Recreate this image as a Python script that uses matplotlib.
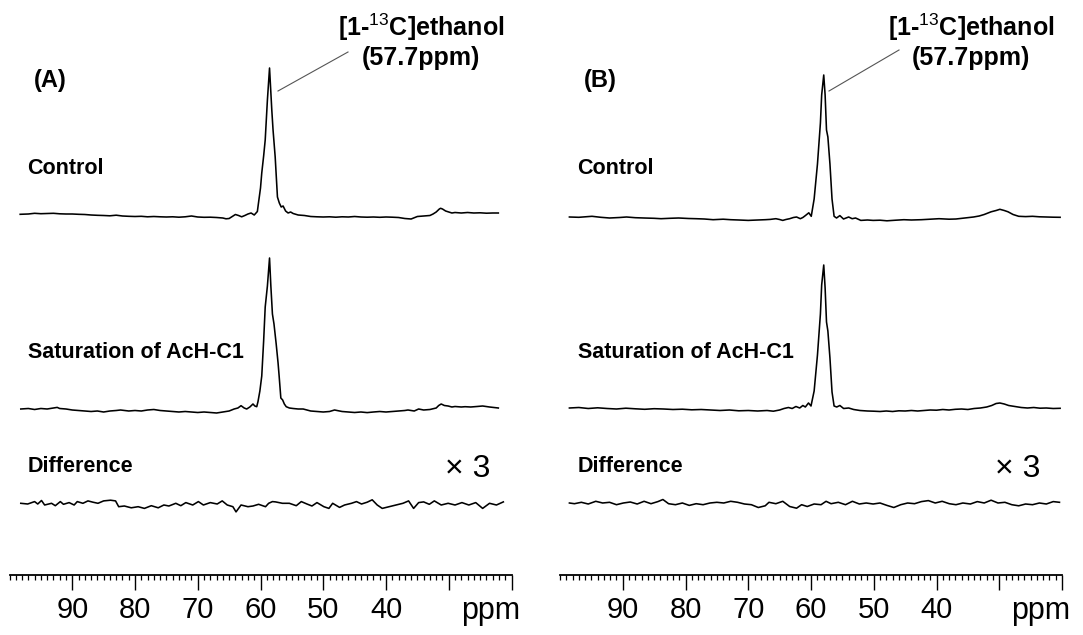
import numpy as np
import matplotlib
matplotlib.use("Agg")
import matplotlib.pyplot as plt
from matplotlib.lines import Line2D
from matplotlib.ticker import FixedLocator, MultipleLocator, FuncFormatter

plt.rcParams['font.family'] = ['Liberation Sans', 'DejaVu Sans']
plt.rcParams['mathtext.fontset'] = 'custom'
plt.rcParams['mathtext.rm'] = 'Liberation Sans'
plt.rcParams['mathtext.bf'] = 'Liberation Sans:bold'

# ---------------- data (intensity above local baseline) ----------------
ctrlA_ppm = [98.3, 97, 96, 95, 94, 93, 92, 91, 90, 89, 88, 87, 86, 85, 84, 83, 82, 81, 80, 79,
             78, 77, 76, 75, 74, 73, 72, 71, 70, 69, 68, 67, 66, 65.5, 65, 64.5, 64, 63.5, 63, 62.5,
             62, 61.5, 61, 60.5, 60.3, 60.0, 59.8, 59.5, 59.25, 58.9, 58.56, 58.2, 58.0, 57.66, 57.3,
             57.0, 56.7, 56.4, 56.0, 55.6, 55.2, 54.8, 54, 53, 52, 51, 50, 49, 48, 47, 46, 45, 44, 43,
             42, 41, 40, 39, 38, 37, 36, 35, 34, 33, 32.5, 32, 31.5, 31.3, 31, 30.5, 30, 29.5, 29, 28,
             27, 26, 25, 24, 23, 22.1]
ctrlA_int = [1.7, 2.0, 2.7, 2.3, 2.5, 2.7, 2.2, 2.0, 2.0, 1.7, 1.5, 1.0, 0.7, 0.5, 0.2, 0.8, 0.0, -0.3,
             -0.5, -0.3, -0.8, -0.5, -0.8, -1.0, -0.8, -1.2, -0.8, 0.0, -1.0, -1.3, -1.2, -1.5, -2.0,
             -2.8, -2.5, -0.5, 1.5, 0.5, -0.8, 0.5, 2.0, 3.0, 1.0, 4.5, 14, 28, 43, 60, 76, 116, 148,
             106, 86, 59, 19, 13, 9, 10, 5, 3, 4, 2.5, 1, 0.5, -0.5, -0.8, -1, -0.8, -1.2, -0.8, -1,
             -0.5, -1.0, -1.2, -1, -1.3, -1.0, -1.2, -1.5, -2.5, -3.0, -0.5, 0, 0.5, 2, 4, 7, 7.7, 7,
             5, 4, 3, 3.5, 3, 3.5, 3, 3.2, 2.8, 3, 3]

satA_ppm = [98.2, 97, 96, 95, 94, 93, 92.4, 92, 91, 90, 89, 88, 87, 86, 85, 84, 83, 82.3, 81, 80,
            79, 78, 77, 76, 75, 74, 73, 72, 71, 70, 69, 68, 67, 66.5, 66, 65, 64.2, 63.6, 63.1, 62.6,
            62.2, 61.7, 61.2, 60.9, 60.6, 60.4, 60.1, 59.8, 59.5, 59.25, 58.9, 58.56, 58.35, 58.1,
            57.85, 57.5, 57.2, 57.03, 56.76, 56.47, 56.2, 55.9, 55.4, 54.8, 54, 53.2, 52, 51, 50, 49,
            48.2, 47, 46, 45, 44, 43, 42, 41, 40, 39, 38, 37, 36.5, 35.5, 34.8, 34, 33, 32, 31.6,
            31.2, 30.7, 30.1, 29.5, 29, 28, 27.4, 26.5, 25.5, 24.6, 23.5, 22.1]
satA_int = [2, 2.5, 1.5, 2.5, 2, 3, 3.6, 2.5, 2, 1, 0.5, 0, -0.5, 0, -1, 0, 0.5, 1, 0, 0.5,
            0, 1, 1.5, 0.5, 0, -0.5, -1, -0.5, -1, -1.5, -1, -1.5, -2, -1.5, -1, 0, 2, 3, 5.3, 3,
            2, 4, 7, 5, 4.3, 9.4, 20, 35, 70, 104, 125, 153, 125, 97, 87, 67, 48, 35, 13, 11,
            7, 4.3, 3, 2.5, 2, 2, 0, -0.5, -1, -0.5, 1, -0.5, -1, -1.5, -1, -1.6, -1, -0.5, -1, -0.5,
            0, 0.5, 1, 0, 2, 1, 1.5, 3, 5.5, 7, 5.5, 5, 4, 4.5, 4, 4.3, 4, 4.5, 5, 4, 3]

diffA_ppm = [98.2, 97.1, 96.0, 95.5, 94.9, 94.4, 93.3, 92.7, 91.9, 91.4, 90.5, 89.7, 89.2, 88.3,
             87.5, 86.7, 85.9, 85.0, 83.9, 83.1, 82.6, 81.7, 80.6, 79.5, 78.5, 77.4, 76.3, 75.4,
             74.6, 73.5, 72.7, 71.9, 70.8, 69.9, 69.1, 68.0, 66.9, 66.1, 65.3, 64.4, 63.9, 63.1,
             62.0, 61.2, 60.3, 59.2, 58.7, 58.1, 57.6, 56.5, 55.4, 54.3, 53.5, 52.6, 51.8, 51.0,
             49.9, 49.1, 48.5, 47.4, 46.6, 45.5, 44.7, 43.9, 43.0, 42.2, 41.4, 40.6, 39.5, 38.4,
             37.3, 36.4, 35.6, 34.8, 34.0, 33.1, 32.3, 31.2, 30.1, 29.0, 27.9, 26.8, 25.7, 24.6,
             23.5, 22.4, 21.3]
diffA_int = [1.7, 1.0, 3.4, 1.0, 4.5, 0, 1.7, -0.7, 3.4, 0.7, 2.4, 0, 3.4, 1.7, 4.1, 2.8, 1.7, 4.1,
             4.8, 4.1, -1.7, -1.0, -2.8, -1.7, -3.4, -0.7, -2.8, 0, -1.0, 1.7, -0.7, 2.4, 0, 3.4, 0,
             2.4, 1.0, 4.1, 0, -1.7, -6.9, 0, -1.7, -1.0, 0.7, -1.7, 1.7, 3.4, 3.1, 1.7, 1.7, -0.7,
             3.4, 1.0, -1.0, 2.4, -1.7, -3.4, 1.7, -2.4, 0, 1.7, 3.4, 1.0, 2.8, 5.2, 0, -3.4, -1.7, 0,
             1.7, 4.1, -3.4, 2.4, 3.1, 0.7, 4.1, 0, 1.7, 0, 2.4, 0, 2.4, -3.4, 1.7, 0, 3.1]

ctrlB_ppm = [98.5, 97, 94.9, 93.5, 92.1, 90.5, 89.4, 88, 86.6, 85, 83.9, 82.5, 81.1, 79.5, 78.3, 77,
             75.6, 74, 72.8, 71.5, 70.0, 68.5, 67.3, 66.5, 65.6, 65.0, 64.5, 64.0, 63.4, 62.8, 62.3,
             61.7, 61.3, 60.9, 60.35, 59.96, 59.5, 58.97, 58.5, 58.3, 57.97, 57.75, 57.53, 57.31,
             56.98, 56.65, 56.32, 55.93, 55.4, 54.82, 54.0, 53.44, 52.9, 52.06, 51, 50.1, 49, 47.9,
             46.5, 45.2, 44, 42.4, 41, 39.6, 38, 36.9, 35.5, 34.1, 33.2, 32.4, 31.3, 30.5, 29.9, 29.2,
             28.6, 27.8, 26.9, 25.8, 24.7, 23.6, 22.5, 21.4, 20.3]
ctrlB_int = [1.0, 0.7, 1.7, 0.7, 0, 0.5, 1.0, 0.3, 0, -0.3, -0.7, -0.3, 0, -0.5, -0.7, -1.0, -1.7,
             -1.2, -1.7, -2.0, -2.4, -2.0, -1.7, -1.4, -0.7, -1.5, -2.4, -1.5, -0.7, 0.5, 1.0, -0.7,
             0.5, 2.4, 5.2, 1.7, 19, 54, 95, 123, 143, 123, 88, 81, 54, 19, 1.7, 0, 2.4, -1.0, 1.0,
             -0.7, 0, -2.4, -2.0, -2.4, -2.2, -2.8, -2.2, -1.7, -2.0, -1.7, -1.2, -0.7, -1.2, -1.0, 0,
             1.0, 2.0, 3.5, 6.2, 7.5, 8.7, 7.5, 6.2, 3.5, 1.7, 1.4, 1.7, 1.2, 1.0, 0.8, 0.7]

satB_ppm = [98.5, 97, 95.5, 94, 92.5, 91, 89.5, 88, 86.5, 85, 83.5, 82, 80.5, 79, 77.5, 76, 74.5, 73,
            71.5, 70, 68.5, 67, 66, 65, 64.3, 63.6, 63, 62.4, 61.8, 61.3, 60.9, 60.4, 60.0, 59.5,
            58.97, 58.5, 58.3, 57.97, 57.75, 57.53, 57.31, 56.98, 56.65, 56.32, 55.9, 55.4, 54.8,
            54.0, 53.2, 52.2, 51, 50, 49, 48, 47, 46, 45, 44, 43, 42, 41, 40, 39, 38, 37, 36, 35, 34,
            33, 32, 31.2, 30.5, 29.9, 29.2, 28.5, 27.5, 26.5, 25.5, 24.5, 23.5, 22.5, 21.4, 20.3]
satB_int = [1.0, 1.5, 0.5, 1.2, 0.5, 0, 0.8, 0.2, -0.3, 0.3, 0, -0.5, -0.2, -0.8, -0.5, -1.0, -1.5,
            -1.0, -1.8, -1.5, -2.0, -1.5, -2.2, -1.0, 0.5, 1.5, 0.5, 2.5, 1.0, 3.5, 2.0, 6.0, 3.0, 18,
            54, 95, 124, 144, 121, 87, 78, 51, 17, 3, 2, 3.5, 0.5, 1.0, -0.5, -1.5, -2.0, -2.2, -2.5,
            -2.0, -2.5, -1.8, -2.0, -1.5, -2.0, -1.5, -1.0, -1.2, -0.5, -1.0, -0.3, 0, -0.5, 0.5, 1.0,
            2.0, 3.5, 5.5, 6.0, 5.0, 3.5, 2.5, 1.5, 1.0, 1.5, 0.8, 1.0, 0.5, 0.7]

diffB_ppm = [98.5, 97.7, 96.6, 95.5, 94.3, 93.2, 92.1, 91.0, 89.9, 88.8, 87.7, 86.6, 85.5, 84.4,
             83.6, 82.7, 81.6, 80.5, 79.4, 78.3, 77.2, 76.1, 75.0, 73.9, 72.8, 71.7, 70.6, 69.5,
             68.4, 67.3, 66.7, 65.6, 64.5, 63.4, 62.3, 61.5, 60.6, 59.5, 58.4, 57.6, 56.8, 55.65,
             54.5, 53.4, 52.3, 51.2, 50.1, 49.0, 47.9, 46.8, 45.7, 44.6, 43.5, 42.4, 41.3, 40.2,
             39.1, 37.97, 36.9, 35.8, 34.6, 33.5, 32.4, 31.3, 30.2, 29.1, 28.0, 26.9, 25.8, 24.7,
             23.6, 22.5, 21.4, 20.4]
diffB_int = [0, -0.7, 0.7, -1.0, 1.7, 0, 0.7, -1.7, 0, 1.0, -1.0, 1.7, -0.7, 1.4, 3.5, -0.7, -1.7, 0,
             -2.4, -0.7, -1.7, 0, 0.7, 0, 1.7, 0.7, -1.0, -1.7, -4.5, -2.8, 0.7, -0.7, 1.7, -3.5,
             -5.2, -1.7, -3.5, -1.0, -1.7, 1.7, -0.7, 0.7, -1.7, 1.7, -1.0, 0, -1.0, 0, -2.4, -4.5,
             -1.7, 0, -0.7, 1.4, 2.4, 0, 1.7, -0.7, -1.7, 0, -1.0, 1.4, 0, 2.8, 0, 0.7, -1.7, -2.8,
             -1.0, -1.7, 0, -1.0, 1.4, 0.7]

major_ticks = [90, 80, 70, 60, 50, 40, 30, 20]
labelled_ticks = [90, 80, 70, 60, 50, 40]
panel_labels = ["(A)", "(B)"]
trace_labels = ["Control", "Saturation of AcH-C1", "Difference"]
peak_label_1 = r"[1-$^{13}$C]ethanol"
peak_label_2 = "(57.7ppm)"
scale_label = "× 3"

# ---------------- layout ----------------
W, H = 1083, 635
fig = plt.figure(figsize=(W / 100, H / 100), dpi=100)
fig.patch.set_facecolor("white")


def rect(x0, x1, ytop, ybot):
    return [x0 / W, 1 - ybot / H, (x1 - x0) / W, (ybot - ytop) / H]


def ptext(x, y, s, **kw):
    fig.text(x / W, 1 - y / H, s, **kw)


def pline(x0, y0, x1, y1, **kw):
    fig.add_artist(Line2D([x0 / W, x1 / W], [1 - y0 / H, 1 - y1 / H],
                          transform=fig.transFigure, **kw))


panels = [
    dict(x0=9.5, x1=511.5, dx=0,
         traces=[(ctrlA_ppm, ctrlA_int, 216), (satA_ppm, satA_int, 411), (diffA_ppm, diffA_int, 505)],
         leader=(278, 91, 348, 52)),
    dict(x0=560, x1=1062, dx=550,
         traces=[(ctrlB_ppm, ctrlB_int, 218), (satB_ppm, satB_int, 409), (diffB_ppm, diffB_int, 503)],
         leader=(829, 91, 899, 50)),
]

for i, p in enumerate(panels):
    ax = fig.add_axes(rect(p['x0'], p['x1'], 0, H))
    ax.set_xlim(100, 20)
    ax.set_ylim(H, 0)
    ax.axis('off')
    for ppm, inten, off in p['traces']:
        ax.plot(ppm, off - np.asarray(inten), color='black', lw=1.15, solid_joinstyle='round')

    # ppm scale
    sax = fig.add_axes(rect(p['x0'], p['x1'], 555, 575))
    sax.set_xlim(100, 20)
    sax.set_facecolor('none')
    for s in ['top', 'left', 'right']:
        sax.spines[s].set_visible(False)
    sax.spines['bottom'].set_linewidth(1.3)
    sax.set_yticks([])
    sax.xaxis.set_major_locator(FixedLocator(major_ticks))
    sax.xaxis.set_minor_locator(MultipleLocator(1))
    sax.xaxis.set_major_formatter(FuncFormatter(
        lambda v, pos: f"{int(round(v))}" if int(round(v)) in labelled_ticks else ""))
    sax.tick_params(axis='x', which='major', direction='out', length=11, width=1.0,
                    labelsize=21, pad=4)
    sax.tick_params(axis='x', which='minor', direction='out', length=3.8, width=0.9)

    dx = p['dx']
    ptext(491 + dx, 611, "ppm", fontsize=22, ha='center', va='center')
    ptext(34 + dx, 80, panel_labels[i], fontsize=17, fontweight='bold', ha='left', va='center')
    ptext(27 + dx, 168, trace_labels[0], fontsize=15.5, fontweight='bold', ha='left', va='center')
    ptext(28 + dx, 353, trace_labels[1], fontsize=15.5, fontweight='bold', ha='left', va='center')
    ptext(28 + dx, 467, trace_labels[2], fontsize=15.5, fontweight='bold', ha='left', va='center')
    ptext(445 + dx, 469, scale_label, fontsize=23, ha='left', va='center')
    ptext(421 + dx, 27, peak_label_1, fontsize=18, fontweight='bold', ha='center', va='center')
    ptext(421 + dx, 58, peak_label_2, fontsize=18, fontweight='bold', ha='center', va='center')
    lx0, ly0, lx1, ly1 = p['leader']
    pline(lx0, ly0, lx1, ly1, color='#555555', lw=0.8)

fig.savefig("out.png", dpi=100, facecolor='white')
